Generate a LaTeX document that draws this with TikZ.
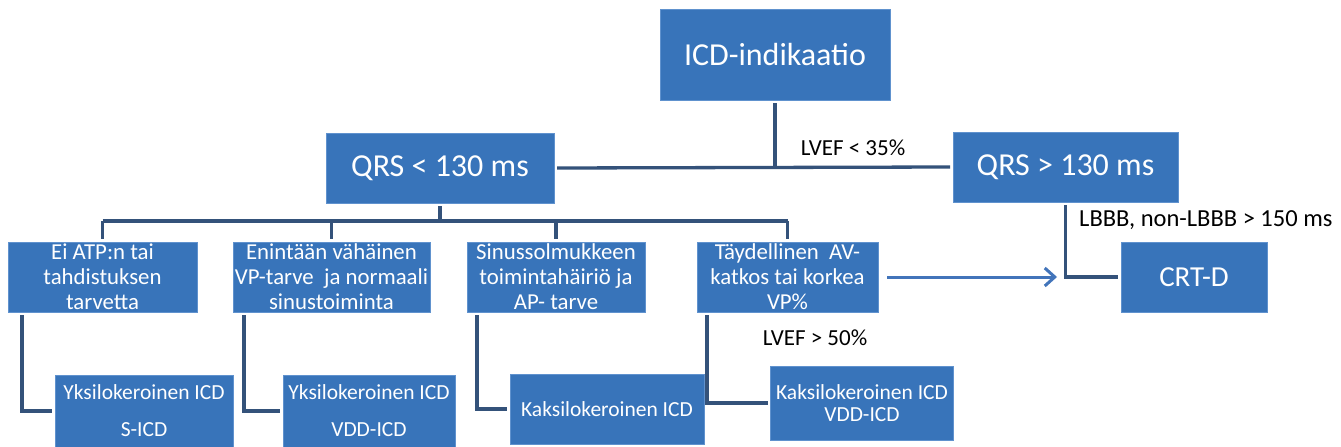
\documentclass[tikz,border=0pt]{standalone}
\usepackage{fontspec}
\setmainfont{Carlito}
\usetikzlibrary{arrows.meta}
\definecolor{boxfill}{RGB}{56,116,186}
\definecolor{boxline}{RGB}{96,146,206}
\definecolor{conn}{RGB}{52,82,122}
\definecolor{arrowc}{RGB}{66,116,186}
\tikzset{
  box/.style={draw=boxline, line width=1pt, fill=boxfill, text=white, inner sep=0pt, outer sep=3pt, align=center},
  bigbox/.style={box, font=\fontsize{32}{36}\selectfont},
  childbox/.style={box, font=\fontsize{22.8}{25}\selectfont},
  leafbox/.style={box, font=\fontsize{21.5}{37}\selectfont},
  conline/.style={draw=conn, line width=3.3pt},
  lbl/.style={text=black, inner sep=0pt, font=\fontsize{23}{26}\selectfont},
}
\begin{document}
\begin{tikzpicture}[x=1pt,y=-1pt]
\useasboundingbox (0,0) rectangle (1341,447);
\fill[white] (0,0) rectangle (1341,447);
% main boxes
\node[bigbox, minimum width=230pt, minimum height=91pt] (icd) at (775,54.5) {ICD-indikaatio};
\node[bigbox, minimum width=228pt, minimum height=70pt] (q1) at (440,168) {QRS < 130 ms};
\node[bigbox, minimum width=225pt, minimum height=70pt] (q2) at (1065.5,167) {QRS > 130 ms};
\node[box, font=\fontsize{29}{32}\selectfont, minimum width=146pt, minimum height=70pt] (crt) at (1194,277) {CRT-D};
% child boxes
\node[childbox, minimum width=189pt, minimum height=70pt] (b1) at (102.5,277) {Ei ATP:n tai\\tahdistuksen\\tarvetta};
\node[childbox, minimum width=197pt, minimum height=70pt] (b2) at (331.5,277) {Enintään vähäinen\\VP-tarve~ ja normaali\\sinustoiminta};
\node[childbox, minimum width=178pt, minimum height=70pt] (b3) at (556,277) {Sinussolmukkeen\\toimintahäiriö ja\\AP- tarve};
\node[childbox, minimum width=181pt, minimum height=70pt] (b4) at (787.5,277) {Täydellinen~ AV-\\katkos tai korkea\\VP\%};
% leaf boxes
\node[leafbox, minimum width=178pt, minimum height=72pt] (a1) at (144,411) {Yksilokeroinen ICD\\S-ICD};
\node[leafbox, minimum width=172pt, minimum height=72pt] (a2) at (369,411) {Yksilokeroinen ICD\\VDD-ICD};
\node[leafbox, minimum width=194pt, minimum height=70pt] (a3) at (607,409) {Kaksilokeroinen ICD};
\node[box, font=\fontsize{21.5}{21.5}\selectfont, minimum width=183pt, minimum height=74pt] (a4) at (862,403) {Kaksilokeroinen ICD\\VDD-ICD};
% labels
\node[lbl] (l35) at (853,148) {LVEF < 35\%};
\node[lbl] (l50) at (815,338) {LVEF > 50\%};
\node[lbl, font=\fontsize{24.5}{27}\selectfont, anchor=west] (lbbb) at (1079,220) {LBBB, non-LBBB > 150 ms};
% connectors
\coordinate (jtop) at (775,168);
\draw[conline] (icd.south) -- (jtop);
\draw[conline] (q1.east) -- (q2.west);
\coordinate (tree) at (440,221);
\draw[conline] (q1.south) -- (tree);
\draw[conline] (b1.north |- tree) -- (b4.north |- tree);
\foreach \b in {b1,b2,b3,b4} \draw[conline] (\b.north |- tree) -- (\b.north);
\draw[conline] (q2.south) |- (crt.west);
\draw[conline] ([xshift=17pt]b1.south west) |- (a1.west);
\draw[conline] ([xshift=14pt]b2.south west) |- (a2.west);
\draw[conline] ([xshift=13pt]b3.south west) |- (a3.west);
\draw[conline] ([xshift=13pt]b4.south west) |- (a4.west);
\coordinate (arrEnd) at (1057,277);
\draw[draw=arrowc, line width=3pt, -{Straight Barb[length=10pt,width=18pt]}] ([xshift=6pt]b4.east) -- (arrEnd);
\end{tikzpicture}
\end{document}
